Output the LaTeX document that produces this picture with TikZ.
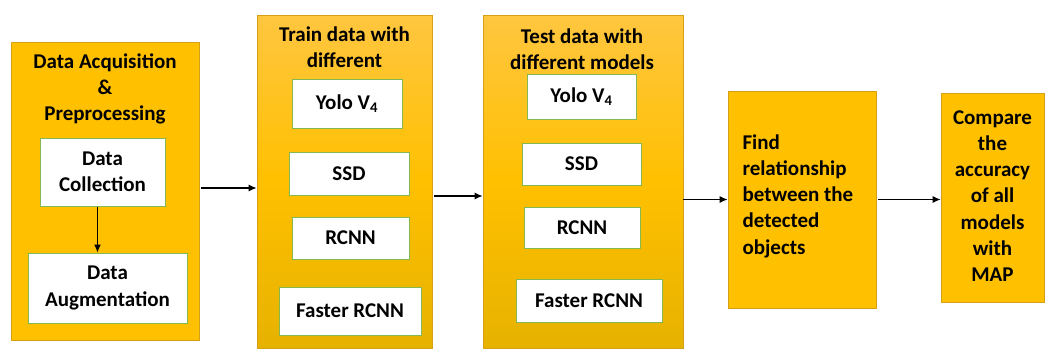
\documentclass[tikz,border=0pt]{standalone}
\usepackage{fontspec}
\setmainfont{Carlito}
\usetikzlibrary{arrows.meta, positioning}
\definecolor{stagegold}{RGB}{255,192,0}
\definecolor{goldtop}{RGB}{255,198,64}
\definecolor{goldbottom}{RGB}{230,178,0}
\definecolor{goldedge}{RGB}{214,160,20}
\definecolor{modelgreen}{RGB}{130,185,85}

\begin{document}
\begin{tikzpicture}[x=1pt, y=-1pt,
  stage/.style={draw=goldedge, fill=stagegold, line width=0.8pt, inner sep=0pt},
  shaded/.style={draw=goldedge, line width=0.8pt, inner sep=0pt,
    top color=goldtop, bottom color=goldbottom, middle color=stagegold},
  model/.style={draw=modelgreen, fill=white, line width=1pt, align=center,
    font=\fontsize{21}{26.5}\selectfont\bfseries},
  ttl/.style={align=center, font=\fontsize{21}{26.2}\selectfont\bfseries},
  arr/.style={-{Latex[length=8pt, width=7pt]}, line width=1.1pt}
]
  \useasboundingbox (0,0) rectangle (1046,349);

  % Stage boxes
  \node[stage, minimum width=188pt, minimum height=298pt] (acq) at (105,191) {};
  \node[shaded, minimum width=175pt, minimum height=333pt] (train) at (344.5,181.5) {};
  \node[shaded, minimum width=200pt, minimum height=333pt] (test) at (583,182) {};
  \node[stage, minimum width=148pt, minimum height=217pt] (find) at (802,199.5) {};
  \node[stage, minimum width=103pt, minimum height=209pt] (compare) at (992.5,197.5) {};

  % Titles
  \node[ttl] (acqtitle) at (105,89) {Data Acquisition\\\&\\Preprocessing};
  \node[ttl] (traintitle) at (344.5,47) {Train data with\\different};
  \node[ttl] (testtitle) at (582,49) {Test data with\\different models};
  \node[ttl, align=left, anchor=west] (findtext) at (739,196) {Find\\relationship\\between the\\detected\\objects};
  \node[ttl] (comparetext) at (992.5,196) {Compare\\the\\accuracy\\of all\\models\\with\\MAP};

  % Inner boxes
  \node[model, minimum width=125pt, minimum height=68pt] (collect) at (102.5,172) {Data\\Collection};
  \node[model, minimum width=159pt, minimum height=70pt] (augment) at (107.5,288) {Data\\Augmentation};

  \node[model, minimum width=110pt, minimum height=49pt] (yolotrain) at (347,103.5) {Yolo V\textsubscript{4}};
  \node[model, minimum width=120pt, minimum height=43pt] (ssdtrain) at (349,173.5) {SSD};
  \node[model, minimum width=117pt, minimum height=42pt] (rcnntrain) at (350.5,238) {RCNN};
  \node[model, minimum width=142pt, minimum height=48pt] (fastertrain) at (350,311) {Faster RCNN};

  \node[model, minimum width=109pt, minimum height=45pt] (yolotest) at (581.5,96.5) {Yolo V\textsubscript{4}};
  \node[model, minimum width=119pt, minimum height=42pt] (ssdtest) at (581.5,164) {SSD};
  \node[model, minimum width=116pt, minimum height=41pt] (rcnntest) at (582,227.5) {RCNN};
  \node[model, minimum width=146pt, minimum height=43pt] (fastertest) at (589,300.5) {Faster RCNN};

  % Arrows
  \draw[arr] ([xshift=-5pt]collect.south) -- ([xshift=-5pt]collect.south |- augment.north);
  \draw[arr] ([xshift=2pt, yshift=3pt]acq.east) -- ([yshift=3pt]acq.east -| train.west);
  \draw[arr] ([xshift=2pt, yshift=-14.5pt]train.east) -- ([yshift=-14.5pt]train.east -| test.west);
  \draw[arr] (test.east |- find.west) -- (find.west);
  \draw[arr] ([xshift=2pt]find.east) -- (find.east -| compare.west);
\end{tikzpicture}
\end{document}
